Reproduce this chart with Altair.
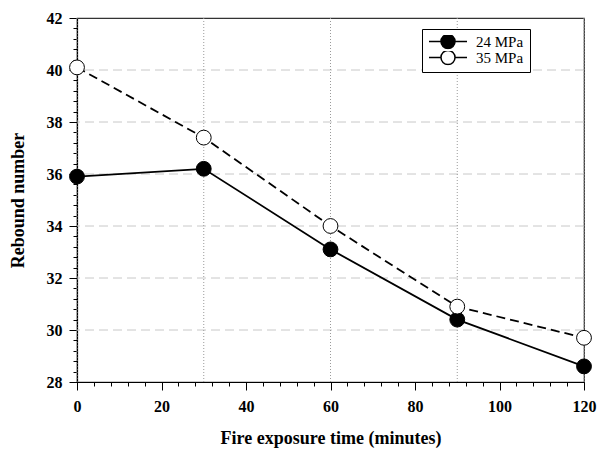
import altair as alt
import pandas as pd

# ---- data ----
time_min = [0, 30, 60, 90, 120]
rebound_24 = [35.9, 36.2, 33.1, 30.4, 28.6]
rebound_35 = [40.1, 37.4, 34.0, 30.9, 29.7]
series_names = ["24 MPa", "35 MPa"]

# tick / grid positions (major + minor ticks; only majors get labels)
y_tick_values = [28, 28.4, 28.8, 29.2, 29.6, 30, 30.4, 30.8, 31.2, 31.6,
                 32, 32.4, 32.8, 33.2, 33.6, 34, 34.4, 34.8, 35.2, 35.6,
                 36, 36.4, 36.8, 37.2, 37.6, 38, 38.4, 38.8, 39.2, 39.6,
                 40, 40.4, 40.8, 41.2, 41.6, 42]
x_tick_values = [0, 4, 8, 12, 16, 20, 24, 28, 32, 36, 40, 44, 48, 52, 56, 60,
                 64, 68, 72, 76, 80, 84, 88, 92, 96, 100, 104, 108, 112, 116, 120]
y_grid_values = [30, 32, 34, 36, 38, 40]
x_grid_values = [0, 30, 60, 90, 120]

df = pd.DataFrame({
    "time": time_min + time_min,
    "rebound": rebound_24 + rebound_35,
    "series": [series_names[0]] * len(time_min) + [series_names[1]] * len(time_min),
})

FONT = "Liberation Serif"
xscale = alt.Scale(domain=[0, 120], nice=False, zero=False)
yscale = alt.Scale(domain=[28, 42], nice=False, zero=False)

x_axis = alt.Axis(
    values=x_tick_values,
    labelExpr="datum.value % 20 == 0 ? datum.label : ''",
    tickSize={"condition": {"test": "datum.value % 20 == 0", "value": 8}, "value": 4},
    title="Fire exposure time (minutes)",
    grid=False, labelOverlap=False, labelFlush=False,
    labelPadding=8, titlePadding=15, format=".0f",
)
y_axis = alt.Axis(
    values=y_tick_values,
    labelExpr="datum.value % 2 == 0 ? datum.label : ''",
    tickSize={"condition": {"test": "datum.value % 2 == 0", "value": 8}, "value": 4},
    title="Rebound number",
    grid=False, labelOverlap=False, labelFlush=False,
    labelPadding=7, titlePadding=19, format=".0f",
)

legend_symbol = ("M-1,0H-0.37M0.37,0H1M-0.37,0A0.37,0.37,0,1,1,0.37,0"
                 "A0.37,0.37,0,1,1,-0.37,0Z")

hgrid = alt.Chart(pd.DataFrame({"v": y_grid_values})).mark_rule(
    color="#c8c8c8", strokeDash=[9, 5], strokeWidth=1
).encode(y=alt.Y("v:Q", scale=yscale, axis=y_axis))

vgrid = alt.Chart(pd.DataFrame({"v": x_grid_values})).mark_rule(
    color="#9a9a9a", strokeDash=[1, 2], strokeWidth=1
).encode(x=alt.X("v:Q", scale=xscale, axis=x_axis))

line24 = alt.Chart(df).transform_filter(
    alt.datum.series == series_names[0]
).mark_line(color="black", strokeWidth=1.8).encode(
    x=alt.X("time:Q", scale=xscale, axis=x_axis),
    y=alt.Y("rebound:Q", scale=yscale, axis=y_axis),
)
line35 = alt.Chart(df).transform_filter(
    alt.datum.series == series_names[1]
).mark_line(color="black", strokeWidth=1.8, strokeDash=[9, 5]).encode(
    x=alt.X("time:Q", scale=xscale, axis=x_axis),
    y=alt.Y("rebound:Q", scale=yscale, axis=y_axis),
)

points = alt.Chart(df).mark_point(filled=True, size=220, stroke="black", strokeWidth=1, opacity=1).encode(
    x=alt.X("time:Q", scale=xscale, axis=x_axis),
    y=alt.Y("rebound:Q", scale=yscale, axis=y_axis),
    fill=alt.Fill(
        "series:N",
        scale=alt.Scale(domain=series_names, range=["black", "white"]),
        legend=alt.Legend(
            title=None, orient="none", legendX=345, legendY=11,
            symbolType=legend_symbol, symbolSize=1444, symbolStrokeColor="black",
            symbolStrokeWidth=1.5, symbolOpacity=1,
            labelFont=FONT, labelFontSize=15, labelFontWeight="normal", labelColor="black",
            labelOffset=8, clipHeight=13, rowPadding=0, padding=6,
            strokeColor="black", fillColor="white", cornerRadius=0,
        ),
    ),
)

chart = alt.layer(hgrid, vgrid, line24, line35, points).properties(
    width=507, height=364,
    padding={"left": 77, "top": 18, "right": 16, "bottom": 75},
    autosize=alt.AutoSizeParams(type="none"),
    background="white",
).configure_view(
    stroke="#333333", strokeWidth=1.2
).configure_axis(
    labelFont=FONT, labelFontSize=16, labelFontWeight="bold", labelColor="black",
    titleFont=FONT, titleFontSize=18, titleFontWeight="bold", titleColor="black",
    domainColor="black", tickColor="black", domainWidth=1.2, tickWidth=1,
)

chart.save("out.html", embed_options={"renderer": "svg", "actions": False})
